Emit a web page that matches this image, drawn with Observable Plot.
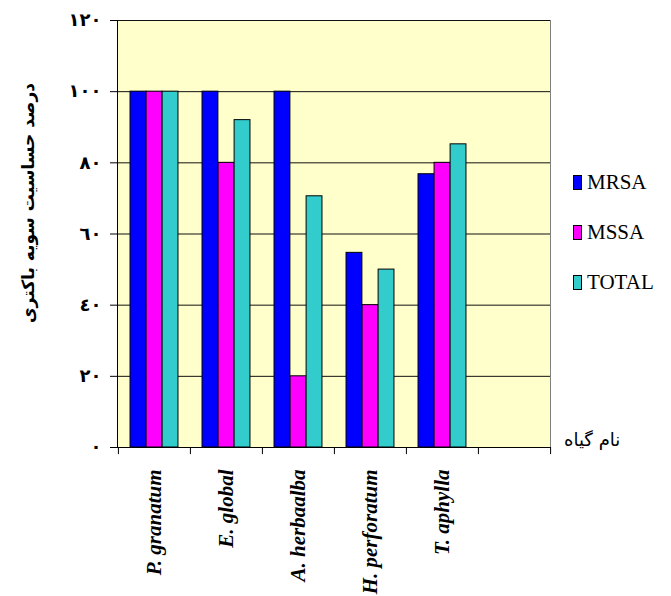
<!DOCTYPE html>
<html>
<head>
<meta charset="utf-8">
<script src="https://cdn.jsdelivr.net/npm/d3@7"></script>
<script src="https://cdn.jsdelivr.net/npm/@observablehq/plot@0.6"></script>
<style>
  body { margin: 0; background: #fff; }
  #wrap { position: relative; width: 671px; height: 596px; }
  .leg { position: absolute; left: 573px; display: flex; align-items: center; color: #000; }
  .leg span { font-family: "Liberation Serif", "Times New Roman", serif; font-size: 21px; }
  .sw { width: 9px; height: 15px; border: 1px solid #000; margin-right: 5px; box-sizing: border-box; }
  #ylab { position: absolute; left: 28px; top: 203px; transform: translate(-50%, -50%) rotate(-90deg);
    white-space: nowrap; direction: rtl; font-family: "DejaVu Sans", sans-serif; font-weight: bold; font-size: 17px; }
  #xlab { position: absolute; left: 564px; top: 439px; transform: translateY(-50%);
    white-space: nowrap; direction: rtl; font-family: "DejaVu Sans", sans-serif; font-size: 18px; }
</style>
</head>
<body>
<div id="wrap"></div>
<script>
const categories = ["P. granatum", "E. global", "A. herbaalba", "H. perforatum", "T. aphylla", ""];
const series = ["MRSA", "MSSA", "TOTAL"];
const colors = ["#0000FF", "#FF00FF", "#33CCCC"];
const mrsa  = [100, 100, 100, 54.7, 76.8];
const mssa  = [100, 80, 20, 40, 80];
const total = [100, 92, 70.6, 50, 85.2];
const yTicks = [0, 20, 40, 60, 80, 100, 120];
const yTickLabels = ["٠", "٢٠", "٤٠", "٦٠", "٨٠", "١٠٠", "١٢٠"];
const yLabel = "درصد حساسیت سویه باکتری";
const xLabel = "نام گیاه";

const values = [mrsa, mssa, total];
const rows = categories.slice(0, 5).flatMap((c, i) =>
  series.map((s, j) => ({category: c, series: s, value: values[j][i]})));

const W = 671, H = 596;
const mL = 117, mR = 121, mT = 20, mB = 149;
const bw = (W - mL - mR) / categories.length;
const barW = bw * 2 / 9, off = bw / 6;

const barMarks = series.map((s, j) => Plot.barY(rows.filter(r => r.series === s), {
  x: "category", y: "value", fill: colors[j], stroke: "#000", strokeWidth: 1,
  insetLeft: off + barW * j, insetRight: bw - off - barW * (j + 1)
}));

const chart = Plot.plot({
  width: W, height: H,
  marginLeft: mL, marginRight: mR, marginTop: mT, marginBottom: mB,
  x: {type: "band", domain: categories, padding: 0},
  y: {domain: [0, 120]},
  style: {background: "transparent", overflow: "visible"},
  marks: [
    Plot.frame({fill: "#FFFFCC", stroke: "#808080"}),
    Plot.ruleY(yTicks.filter(d => d > 0), {stroke: "#111", strokeWidth: 1}),
    ...barMarks,
    Plot.ruleY([0], {stroke: "#000"}),
    Plot.frame({anchor: "left", stroke: "#000"}),
    Plot.ruleX(categories, {x: d => d, dx: -bw / 2, y1: 0, y2: -2, stroke: "#000"}),
    Plot.ruleX([categories[categories.length - 1]], {x: d => d, dx: bw / 2, y1: 0, y2: -2, stroke: "#000"}),
    Plot.axisY({ticks: yTicks, tickFormat: d => yTickLabels[yTicks.indexOf(d)], tickSize: 7, tickPadding: 9,
      fontSize: 18, fontWeight: "bold", fontFamily: "DejaVu Sans", label: null}),
    Plot.axisX({tickSize: 0, tickRotate: -90, tickPadding: 22, fontSize: 21, fontWeight: "bold",
      fontStyle: "italic", fontFamily: "Liberation Serif", label: null})
  ]
});
const wrap = document.getElementById("wrap");
wrap.appendChild(chart);

const yl = document.createElement("div");
yl.id = "ylab"; yl.textContent = yLabel; wrap.appendChild(yl);
const xl = document.createElement("div");
xl.id = "xlab"; xl.textContent = xLabel; wrap.appendChild(xl);

const legTops = [182, 232, 282];
series.forEach((s, j) => {
  const d = document.createElement("div");
  d.className = "leg";
  d.style.top = (legTops[j] - 12) + "px";
  d.style.height = "24px";
  d.innerHTML = `<div class="sw" style="background:${colors[j]}"></div><span>${s}</span>`;
  wrap.appendChild(d);
});
</script>
</body>
</html>
